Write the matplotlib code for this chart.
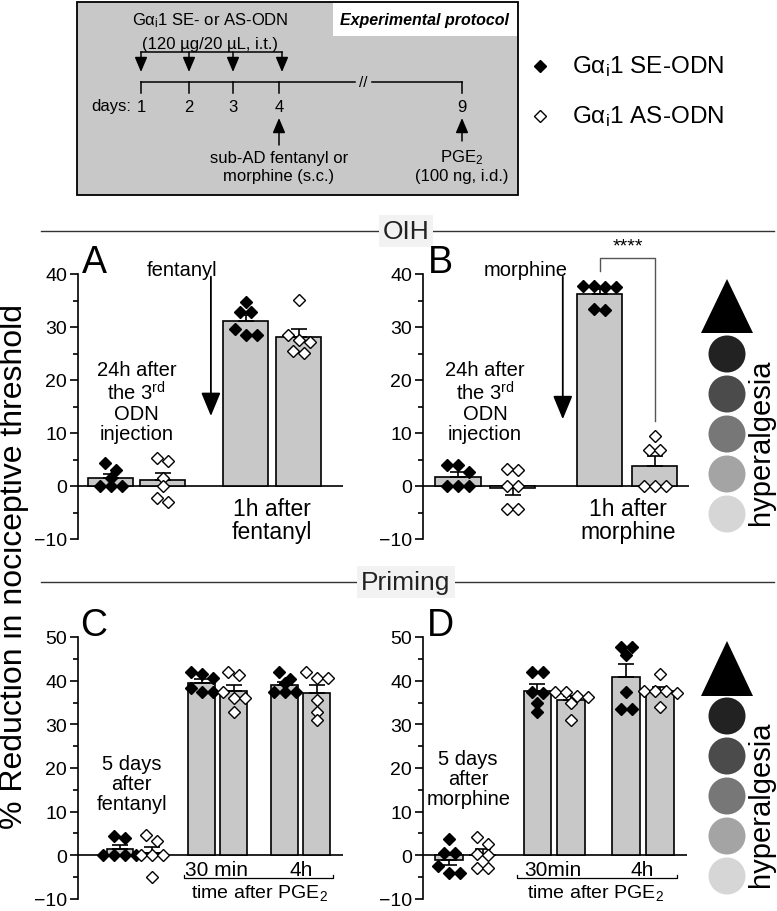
import numpy as np
import matplotlib

matplotlib.use("Agg")
import matplotlib.pyplot as plt  # noqa: E402
from matplotlib.patches import Rectangle, Circle, Polygon  # noqa: E402
from matplotlib.ticker import MultipleLocator  # noqa: E402

plt.rcParams["font.family"] = ["Liberation Sans", "DejaVu Sans"]
plt.rcParams["mathtext.default"] = "regular"

# --- data (% reduction in nociceptive threshold, one value per rat) ---
# bars alternate: SE-ODN (filled), AS-ODN (open)
a_se_24h = [3.1, 4.4, 1.6, 0.0, 0.0, 0.0]
a_as_24h = [4.7, 5.3, 1.6, 0.0, -3.1, -2.2]
a_se_1h = [34.8, 32.8, 32.8, 29.6, 28.4, 28.4]
a_as_1h = [35.1, 28.4, 27.5, 27.2, 25.5, 25.1]

b_se_24h = [3.9, 2.7, 3.9, 0.0, 0.0, 0.0]
b_as_24h = [3.0, 3.3, 0.0, 0.0, -4.3, -4.3]
b_se_1h = [37.7, 37.6, 37.6, 37.7, 33.2, 33.4]
b_as_1h = [9.5, 6.8, 6.8, 0.0, 0.0, 0.0]

c_se_5d = [4.4, 4.0, 0.0, 0.0, 0.0, 0.0]
c_as_5d = [4.7, 3.2, 0.0, 0.0, 0.0, -5.0]
c_se_30 = [41.6, 42.0, 40.5, 37.5, 37.5, 38.3]
c_as_30 = [42.0, 41.3, 36.0, 37.5, 36.0, 32.9]
c_se_4h = [41.9, 40.3, 39.5, 37.5, 37.5, 37.5]
c_as_4h = [42.0, 40.7, 40.7, 35.6, 32.9, 31.0]

d_se_5d = [3.7, 0.5, 0.5, -2.5, -4.1, -4.1]
d_as_5d = [4.1, 2.7, 0.2, 0.0, -3.0, -3.0]
d_se_30 = [42.0, 42.0, 37.5, 37.1, 32.9, 34.8]
d_as_30 = [37.5, 37.5, 36.5, 36.2, 34.8, 30.9]
d_se_4h = [47.7, 47.7, 45.8, 37.5, 33.4, 33.4]
d_as_4h = [41.5, 37.7, 37.7, 37.7, 37.2, 34.0]

protocol_days = ["1", "2", "3", "4", "9"]
legend_labels = ["G\u03b1$_i$1 SE-ODN", "G\u03b1$_i$1 AS-ODN"]
scale_grays = ["#222222", "#4b4b4b", "#777777", "#a4a4a4", "#d6d6d6"]

BAR = "#c8c8c8"
W, H = 777, 912

fig = plt.figure(figsize=(W / 100, H / 100), dpi=100)

# overlay in pixel coordinates for the schematic parts
ov = fig.add_axes([0, 0, 1, 1])
ov.set_xlim(0, W)
ov.set_ylim(H, 0)
ov.axis("off")


def px_axes(x0, x1, ytop, ybot):
    ax = fig.add_axes([x0 / W, 1 - ybot / H, (x1 - x0) / W, (ybot - ytop) / H])
    ax.set_facecolor("none")
    return ax


def swarm(ax, x0, vals, step_px, row_px=7):
    """Spread points that sit at about the same height side by side (GraphPad-like)."""
    pts = ax.transData.transform(np.column_stack([np.full(len(vals), x0), vals]))
    py = pts[:, 1]
    order = np.argsort(-py)
    rows = []
    for i in order:
        if rows and abs(py[rows[-1][0]] - py[i]) < row_px:
            rows[-1].append(i)
        else:
            rows.append([i])
    off = np.zeros(len(vals))
    for r in rows:
        for k, i in enumerate(r):
            off[i] = (k - (len(r) - 1) / 2) * step_px
    ppu = ax.transData.transform([[1, 0]])[0, 0] - ax.transData.transform([[0, 0]])[0, 0]
    return x0 + off / ppu


def panel(ax, groups, pos, width, xlim, ylim, step_px):
    ax.set_xlim(xlim)
    ax.set_ylim(ylim)
    ax.axhline(0, color="black", lw=1.2, zorder=1.5)
    for k, (vals, x) in enumerate(zip(groups, pos)):
        vals = np.asarray(vals)
        m = vals.mean()
        s = vals.std(ddof=1) / np.sqrt(len(vals))
        ax.bar(x, m, width, color=BAR, edgecolor="black", lw=1.2, zorder=2)
        err = [[0], [s]] if m >= 0 else [[s], [0]]
        ax.errorbar(x, m, yerr=err, fmt="none", ecolor="black", elinewidth=1.2,
                    capsize=6, capthick=1.2, zorder=2.5)
        filled = k % 2 == 0
        ax.plot(swarm(ax, x, vals, step_px), vals, "D", ms=6, ls="none",
                mfc="black" if filled else "white", mec="black", mew=1.0,
                zorder=4, clip_on=False)
    for side in ("top", "right", "bottom"):
        ax.spines[side].set_visible(False)
    ax.spines["left"].set_linewidth(1.2)
    ax.set_xticks([])
    ax.yaxis.set_major_locator(MultipleLocator(10))
    ax.yaxis.set_minor_locator(MultipleLocator(5))
    ax.tick_params(axis="y", which="major", length=6, width=1.2, labelsize=14, pad=2)
    ax.tick_params(axis="y", which="minor", length=3.5, width=1.2)


def down_arrow(ax, x, y0, y1):
    ax.annotate("", xy=(x, y1), xytext=(x, y0), annotation_clip=False,
                arrowprops=dict(arrowstyle="-|>,head_length=1.45,head_width=0.6",
                                color="black", lw=1.3, mutation_scale=10,
                                shrinkA=0, shrinkB=0))


NOTE = 14.5

# --- OIH panels ---
ax_a = px_axes(78, 343, 275, 540)
panel(ax_a, [a_se_24h, a_as_24h, a_se_1h, a_as_1h], [0, 1, 2.6, 3.62], 0.865,
      (-0.625, 4.47), (-10, 40), 11)
ax_a.text(0.5, 16, "24h after\nthe 3$^{rd}$\nODN\ninjection", ha="center", va="center",
          fontsize=NOTE, linespacing=1.05)
ax_a.text(1.37, 40.8, "fentanyl", ha="center", va="center", fontsize=NOTE)
down_arrow(ax_a, 1.93, 39.5, 13.2)
ax_a.text(3.1, -6.5, "1h after\nfentanyl", ha="center", va="center", fontsize=16.5,
          linespacing=1.0)

ax_b = px_axes(423, 689, 275, 540)
panel(ax_b, [b_se_24h, b_as_24h, b_se_1h, b_as_1h], [0, 1.05, 2.72, 3.77], 0.865,
      (-0.67, 4.43), (-10, 40), 11)
ax_b.text(0.52, 16, "24h after\nthe 3$^{rd}$\nODN\ninjection", ha="center", va="center",
          fontsize=NOTE, linespacing=1.05)
ax_b.text(1.3, 40.8, "morphine", ha="center", va="center", fontsize=NOTE)
down_arrow(ax_b, 2.01, 39.5, 12.6)
ax_b.text(3.26, -6.5, "1h after\nmorphine", ha="center", va="center", fontsize=16.5,
          linespacing=1.0)
ax_b.plot([2.72, 2.72, 3.77, 3.77], [40.6, 43.1, 43.1, 12.3], color="#555555", lw=1.0,
          clip_on=False)
ax_b.text(3.25, 45.2, "****", ha="center", va="center", fontsize=14)

# --- Priming panels ---
ax_c = px_axes(78, 343, 638, 900)
panel(ax_c, [c_se_5d, c_as_5d, c_se_30, c_as_30, c_se_4h, c_as_4h],
      [0, 1, 2.55, 3.55, 5.15, 6.15], 0.83, (-1.31, 6.97), (-10, 50), 11)
ax_c.text(0.37, 16.5, "5 days\nafter\nfentanyl", ha="center", va="center",
          fontsize=NOTE, linespacing=1.05)
ax_c.text(3.03, -3.2, "30 min", ha="center", va="center", fontsize=15)
ax_c.text(5.66, -3.2, "4h", ha="center", va="center", fontsize=15)
ax_c.plot([1.99, 1.99, 6.66, 6.66], [-4.5, -5.3, -5.3, -4.5], color="black", lw=0.9,
          clip_on=False)
ax_c.text(4.37, -8.3, "time after PGE$_2$", ha="center", va="center", fontsize=14)

ax_d = px_axes(423, 687, 638, 900)
panel(ax_d, [d_se_5d, d_as_5d, d_se_30, d_as_30, d_se_4h, d_as_4h],
      [0, 1.0, 2.63, 3.64, 5.28, 6.3], 0.82, (-0.78, 7.1), (-10, 50), 11)
ax_d.text(0.57, 17.6, "5 days\nafter\nmorphine", ha="center", va="center",
          fontsize=NOTE, linespacing=1.05)
ax_d.text(3.1, -3.2, "30min", ha="center", va="center", fontsize=15)
ax_d.text(5.76, -3.2, "4h", ha="center", va="center", fontsize=15)
ax_d.plot([2.03, 2.03, 6.8, 6.8], [-4.5, -5.3, -5.3, -4.5], color="black", lw=0.9,
          clip_on=False)
ax_d.text(4.37, -8.3, "time after PGE$_2$", ha="center", va="center", fontsize=14)

# --- panel letters, y label, section headers ---
for letter, x, y in [("A", 82, 273), ("B", 428, 273), ("C", 80, 636), ("D", 427, 636)]:
    ov.text(x, y, letter, fontsize=27, ha="left", va="baseline")
ov.text(14, 567, "% Reduction in nociceptive threshold", rotation=90, ha="center",
        va="center", fontsize=23)
for label, y in [("OIH", 232), ("Priming", 583)]:
    ov.plot([41, 774], [y, y], color="#333333", lw=1.0, zorder=1)
    ov.text(406, y, label, ha="center", va="center", fontsize=19, color="#222222", zorder=2,
            bbox=dict(boxstyle="square,pad=0.15", fc="#f2f2f2", ec="none"))

# --- hyperalgesia scales ---
for cx, tri_top, tri_bot, cy0 in [(727, 280, 334, 355), (727, 642, 697, 717)]:
    ov.add_patch(Polygon([[cx - 26, tri_bot], [cx + 26, tri_bot], [cx, tri_top]],
                         closed=True, fc="black", ec="none"))
    for k, c in enumerate(scale_grays):
        ov.add_patch(Circle((cx, cy0 + 40 * k), 18.5, fc=c, ec="none"))
    ov.text(cx + 34, cy0 + 87, "hyperalgesia", rotation=90, ha="center", va="center",
            fontsize=21)

# --- protocol schematic ---
ov.add_patch(Rectangle((77, 3), 441, 193, fc="#c8c8c8", ec="black", lw=1.3))
ov.add_patch(Rectangle((333, 4), 184, 33, fc="white", ec="none"))
ov.text(425, 21, "Experimental protocol", fontsize=11.5, fontweight="bold",
        fontstyle="italic", ha="center", va="center")
day_x = [141, 189, 233, 279, 462]
ov.plot([141, 355], [83, 83], color="black", lw=1.1)
ov.plot([372, 462], [83, 83], color="black", lw=1.1)
ov.text(363, 83, "//", ha="center", va="center", fontsize=11)
for x, d in zip(day_x, protocol_days):
    ov.plot([x, x], [83, 94], color="black", lw=1.1)
    ov.text(x, 107, d, ha="center", va="center", fontsize=12)
ov.text(131, 107, "days:", ha="right", va="center", fontsize=12)
ov.plot([141, 282], [53, 53], color="black", lw=1.1)
for x in [141, 189, 233, 282]:
    ov.annotate("", xy=(x, 73), xytext=(x, 53),
                arrowprops=dict(arrowstyle="-|>,head_length=0.9,head_width=0.38",
                                color="black", lw=1.1, mutation_scale=10,
                                shrinkA=0, shrinkB=0))
for x, y0 in [(279, 146), (462, 142)]:
    ov.annotate("", xy=(x, 119), xytext=(x, y0),
                arrowprops=dict(arrowstyle="-|>,head_length=0.9,head_width=0.38",
                                color="black", lw=1.1, mutation_scale=10,
                                shrinkA=0, shrinkB=0))
ov.text(210, 21, "G\u03b1$_i$1 SE- or AS-ODN", ha="center", va="center", fontsize=12)
ov.text(210, 44, "(120 \u00b5g/20 \u00b5L, i.t.)", ha="center", va="center", fontsize=12)
ov.text(279, 158, "sub-AD fentanyl or", ha="center", va="center", fontsize=12)
ov.text(279, 177, "morphine (s.c.)", ha="center", va="center", fontsize=12)
ov.text(462, 158, "PGE$_2$", ha="center", va="center", fontsize=12)
ov.text(462, 177, "(100 ng, i.d.)", ha="center", va="center", fontsize=12)

# --- legend ---
for (label, y, face) in zip(legend_labels, [67, 117], ["black", "white"]):
    ov.plot([540], [y], "D", ms=6, mfc=face, mec="black", mew=1.0)
    ov.text(572, y, label, ha="left", va="center", fontsize=17.5)

fig.savefig("out.png", dpi=100)
